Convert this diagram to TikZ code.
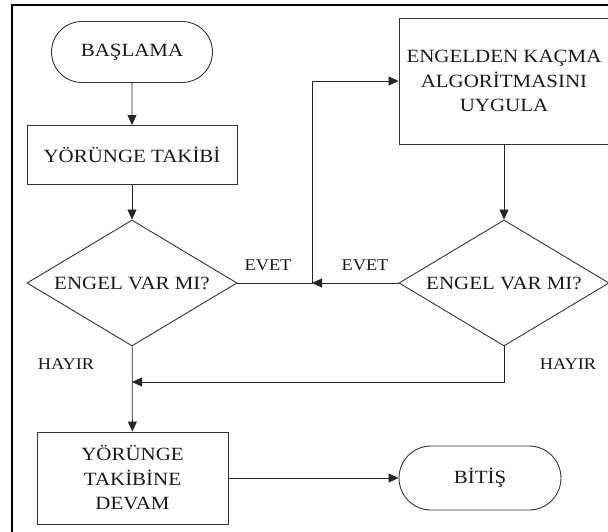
\documentclass[tikz,border=0pt]{standalone}
\usepackage{fontspec}
\setmainfont{Liberation Serif}
\newfontfamily\diafont[FakeStretch=1.12]{Liberation Serif}
\usetikzlibrary{shapes.geometric, shapes.misc, arrows.meta, positioning}

\begin{document}
\begin{tikzpicture}[
        x=1pt, y=-1pt,
        arr/.style={-{Triangle[length=10pt, width=9pt]}, line width=0.8pt, draw=black!85},
        box/.style={rectangle, draw=black!80, line width=0.9pt, inner sep=0pt,
            align=center, text=black!90, font=\diafont\fontsize{18.7}{24.5}\selectfont},
        term/.style={rounded rectangle, draw=black!80, line width=0.9pt, inner sep=0pt,
            text=black!90, font=\diafont\fontsize{18.7}{24.5}\selectfont},
        cond/.style={diamond, aspect=1.667, draw=black!80, line width=0.9pt, inner sep=0pt,
            minimum width=210pt, minimum height=126pt,
            text=black!90, font=\diafont\fontsize{18.7}{24.5}\selectfont},
        lbl/.style={inner sep=0pt, text=black!90, font=\diafont\fontsize{16.4}{20}\selectfont},
    ]

    \useasboundingbox (0,0) rectangle (608,532);

    %% ---- Frame (left and top edges only) ----
    \draw[line width=2pt] (12,532) -- (12,5) -- (608,5);

    %% ---- Left column ----
    \node[term, minimum width=161pt, minimum height=61pt] (basla) at (132,52) {BAŞLAMA};
    \node[box, minimum width=210pt, minimum height=59pt] (takip) at (132,155) {YÖRÜNGE TAKİBİ};
    \node[cond] (engel1) at (132,283) {ENGEL VAR MI?};
    \node[box, minimum width=191pt, minimum height=92pt] (devam) at (132.5,478)
        {YÖRÜNGE\\TAKİBİNE\\DEVAM};

    %% ---- Right column ----
    \node[box, minimum width=210pt, minimum height=126pt] (kacma) at (504,81)
        {ENGELDEN KAÇMA\\ALGORİTMASINI\\UYGULA};
    \node[cond] (engel2) at (504,283) {ENGEL VAR MI?};
    \node[term, minimum width=162pt, minimum height=64pt] (bitis) at (480,478) {BİTİŞ};

    % junction points
    \coordinate (evet) at (312,283);
    \coordinate (hayir) at (132,382);

    %% ---- Connectors ----
    \draw[arr] (basla) -- (takip);
    \draw[arr] (takip) -- (engel1);
    \draw[arr] (engel1.east) -- (evet) |- (kacma.west);
    \draw[arr] (kacma) -- (engel2);
    \draw[arr] (engel2.west) -- (evet);
    \draw[arr] (engel2.south) |- (hayir);
    \draw[arr] (engel1) -- (devam);
    \draw[arr] (devam) -- (bitis);

    %% ---- Branch labels ----
    \node[lbl] (evet1) at (268,265) {EVET};
    \node[lbl] (evet2) at (365,265) {EVET};
    \node[lbl] (hayir1) at (66,364) {HAYIR};
    \node[lbl] (hayir2) at (568,364) {HAYIR};

\end{tikzpicture}
\end{document}
